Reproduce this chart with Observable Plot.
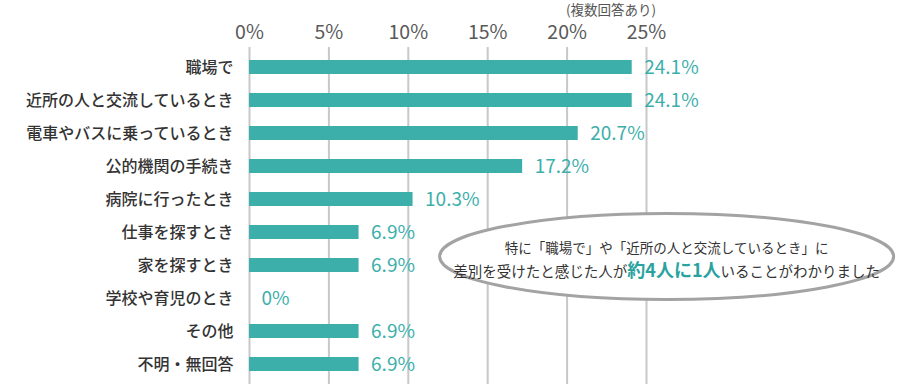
<!DOCTYPE html>
<html><head><meta charset="utf-8">
<script src="https://cdn.jsdelivr.net/npm/d3@7"></script>
<script src="https://cdn.jsdelivr.net/npm/@observablehq/plot@0.6"></script>
<style>
body{margin:0;background:#fff;}
#chart{position:relative;width:900px;height:384px;}
svg{font-family:"Noto Sans CJK JP","Noto Sans",sans-serif;}
</style></head>
<body><div id="chart"></div>
<script>
const categories = ["職場で","近所の人と交流しているとき","電車やバスに乗っているとき","公的機関の手続き","病院に行ったとき","仕事を探すとき","家を探すとき","学校や育児のとき","その他","不明・無回答"];
const values = [24.1, 24.1, 20.7, 17.2, 10.3, 6.9, 6.9, 0, 6.9, 6.9];
const valueLabels = ["24.1%","24.1%","20.7%","17.2%","10.3%","6.9%","6.9%","0%","6.9%","6.9%"];
const xTicks = [0, 5, 10, 15, 20, 25];
const note = "(複数回答あり)";
const calloutLine1 = "特に「職場で」や「近所の人と交流しているとき」に";
const calloutLine2 = ["差別を受けたと感じた人が", "約4人に1人", "いることがわかりました"];

const data = categories.map((c,i)=>({cat:c, v:values[i], label:valueLabels[i]}));
const teal = "#3cafab";

const callout = (index, scales, values, dims, context) => {
  const g = d3.create("svg:g");
  const cx = scales.x(26.3);
  const cy = (scales.y(categories[6]) + scales.y(categories[7])) / 2 + scales.y.bandwidth() / 2 - 25;
  g.append("ellipse").attr("cx", cx).attr("cy", cy).attr("rx", 227).attr("ry", 43)
    .attr("fill", "#fff").attr("stroke", "#a3a3a3").attr("stroke-width", 3);
  g.append("text").attr("x", cx).attr("y", cy - 4).attr("text-anchor","middle")
    .attr("font-size", 13.5).attr("fill", "#333").text(calloutLine1);
  const t = g.append("text").attr("x", cx).attr("y", cy + 20).attr("text-anchor","middle")
    .attr("font-size", 14.5).attr("fill", "#333");
  t.append("tspan").text(calloutLine2[0]);
  t.append("tspan").attr("font-size", 18).attr("font-weight", "bold").attr("fill", "#2aa39f").text(calloutLine2[1]);
  t.append("tspan").text(calloutLine2[2]);
  return g.node();
};

const plot = Plot.plot({
  width: 900, height: 384,
  marginLeft: 249, marginRight: 254, marginTop: 47, marginBottom: 0,
  style: {fontFamily: '"Noto Sans CJK JP","Noto Sans",sans-serif', background: "#fff"},
  x: {domain: [0, 25], axis: null},
  y: {domain: categories, paddingInner: 0.58, paddingOuter: 0.29, axis: null},
  marks: [
    Plot.gridX({ticks: xTicks, stroke: "#c8c8c8", strokeOpacity: 1, strokeWidth: 2}),
    Plot.barX(data, {x: "v", y: "cat", fill: teal}),
    Plot.axisX({ticks: xTicks, anchor: "top", tickSize: 0, tickPadding: 9, tickFormat: d => d + "%", fontSize: 19.5, color: "#595959", label: null}),
    Plot.axisY({anchor: "left", tickSize: 0, tickPadding: 16, fontSize: 16, fontWeight: 500, color: "#333", stroke: "#333", strokeWidth: 0.35, label: null}),
    Plot.text(data, {x: "v", y: "cat", text: "label", textAnchor: "start", dx: 12, fill: teal, fontSize: 19}),
    callout
  ]
});
document.getElementById("chart").appendChild(plot);

d3.select(plot).append("text").attr("x", 611).attr("y", 15).attr("text-anchor","middle")
  .attr("font-size", 13.5).attr("fill", "#555").text(note);
</script></body></html>
